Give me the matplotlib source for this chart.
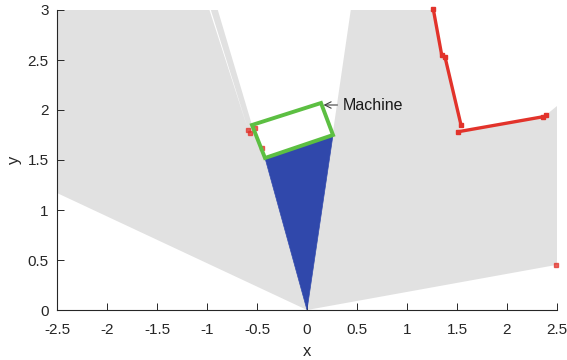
import numpy as np
import matplotlib
matplotlib.use("Agg")
import matplotlib.pyplot as plt
from matplotlib.patches import Polygon

plt.rcParams["font.family"] = ["Liberation Sans", "DejaVu Sans"]
plt.rcParams["axes.unicode_minus"] = False

# scan hits on the walls
right_wall_x = [1.263, 1.347, 1.38, 1.54]
right_wall_y = [3.007, 2.55, 2.53, 1.85]
lower_wall_x = [1.513, 2.363, 2.39]
lower_wall_y = [1.783, 1.933, 1.95]
lone_hits_x = [2.49, -0.587, -0.57, -0.52, -0.453]
lone_hits_y = [0.45, 1.80, 1.77, 1.82, 1.62]

# machine rectangle corners (bottom-left, bottom-right, top-right, top-left)
machine_x = [-0.42, 0.26, 0.14, -0.55]
machine_y = [1.52, 1.75, 2.07, 1.85]

# angles (deg) of the no-return rays bounding each fan
right_fan_angles = [10.24, 39.2, 67.2, 81.7]
left_fan_angles = [107.44, 107.92, 154.92]
gap_end = (-0.585, 1.79)
far = 10.0


def far_pt(a):
    r = np.radians(a)
    return (far * np.cos(r), far * np.sin(r))


gray = "#e1e1e1"
blue = "#3048ab"
red = "#e2332b"
green = "#5cbf42"

fig = plt.figure(figsize=(5.67, 3.6), dpi=100)
ax = fig.add_axes([57 / 567, 50 / 360, 500 / 567, 300 / 360])

# right fan of rays
right_pts = [(0, 0), (lone_hits_x[0], lone_hits_y[0]),
             far_pt(right_fan_angles[0]), far_pt(right_fan_angles[1])]
right_pts += list(zip(lower_wall_x[::-1], lower_wall_y[::-1]))
right_pts += list(zip(right_wall_x[::-1], right_wall_y[::-1]))
right_pts += [far_pt(right_fan_angles[2]), far_pt(right_fan_angles[3])]
ax.add_patch(Polygon(right_pts, closed=True, fc=gray, ec="none", zorder=1))

# left fan of rays
tl_ang = np.degrees(np.arctan2(machine_y[3], machine_x[3]))
left_pts = [(0, 0), (machine_x[0], machine_y[0]), (machine_x[3], machine_y[3]),
            far_pt(tl_ang), far_pt(left_fan_angles[0]), gap_end,
            far_pt(left_fan_angles[1]), far_pt(left_fan_angles[2])]
ax.add_patch(Polygon(left_pts, closed=True, fc=gray, ec="none", zorder=1))

# rays hitting the machine
blue_pts = [(0, 0), (machine_x[0], machine_y[0]), (machine_x[1], machine_y[1])]
ax.add_patch(Polygon(blue_pts, closed=True, fc=blue, ec=blue, lw=0.5, zorder=2))

# red hit points
ax.plot(right_wall_x, right_wall_y, color=red, lw=2.4, marker="s", ms=3,
        solid_capstyle="butt", zorder=3, clip_on=False)
ax.plot(lower_wall_x[:2], lower_wall_y[:2], color=red, lw=2.4, marker="s",
        ms=3, zorder=3)
ax.plot(lower_wall_x[2:], lower_wall_y[2:], ls="none", color=red, marker="s",
        ms=3.5, zorder=3)
ax.plot(lone_hits_x, lone_hits_y, ls="none", color=red, marker="s", ms=3,
        alpha=0.75, zorder=3, clip_on=False)

# machine outline
ax.add_patch(Polygon(list(zip(machine_x, machine_y)), closed=True, fc="none",
                     ec=green, lw=2.8, joinstyle="miter", zorder=4))

ax.annotate("Machine", xy=(0.165, 2.05), xytext=(0.36, 2.05),
            fontsize=11.5, va="center", ha="left", color="#1a1a1a",
            arrowprops=dict(arrowstyle="->", color="#404040", lw=0.8,
                            shrinkA=2, shrinkB=0))

ax.set_xlim(-2.5, 2.5)
ax.set_ylim(0, 3)
ax.set_xticks(np.arange(-2.5, 2.51, 0.5))
ax.set_xticklabels(["-2.5", "-2", "-1.5", "-1", "-0.5", "0", "0.5", "1",
                    "1.5", "2", "2.5"])
ax.set_yticks(np.arange(0, 3.01, 0.5))
ax.set_yticklabels(["0", "0.5", "1", "1.5", "2", "2.5", "3"])
ax.tick_params(direction="in", length=5, width=0.7, labelsize=11,
               colors="#262626")
ax.tick_params(axis="x", pad=9.5)
ax.tick_params(axis="y", pad=6)
ax.spines["top"].set_visible(False)
ax.spines["right"].set_visible(False)
for s in ["left", "bottom"]:
    ax.spines[s].set_color("#262626")
    ax.spines[s].set_linewidth(0.8)
    ax.spines[s].set_zorder(5)
ax.set_xlabel("x", fontsize=12, color="#262626", labelpad=5)
ax.set_ylabel("y", fontsize=12, color="#262626", labelpad=4)

fig.savefig("out.png", dpi=100)
